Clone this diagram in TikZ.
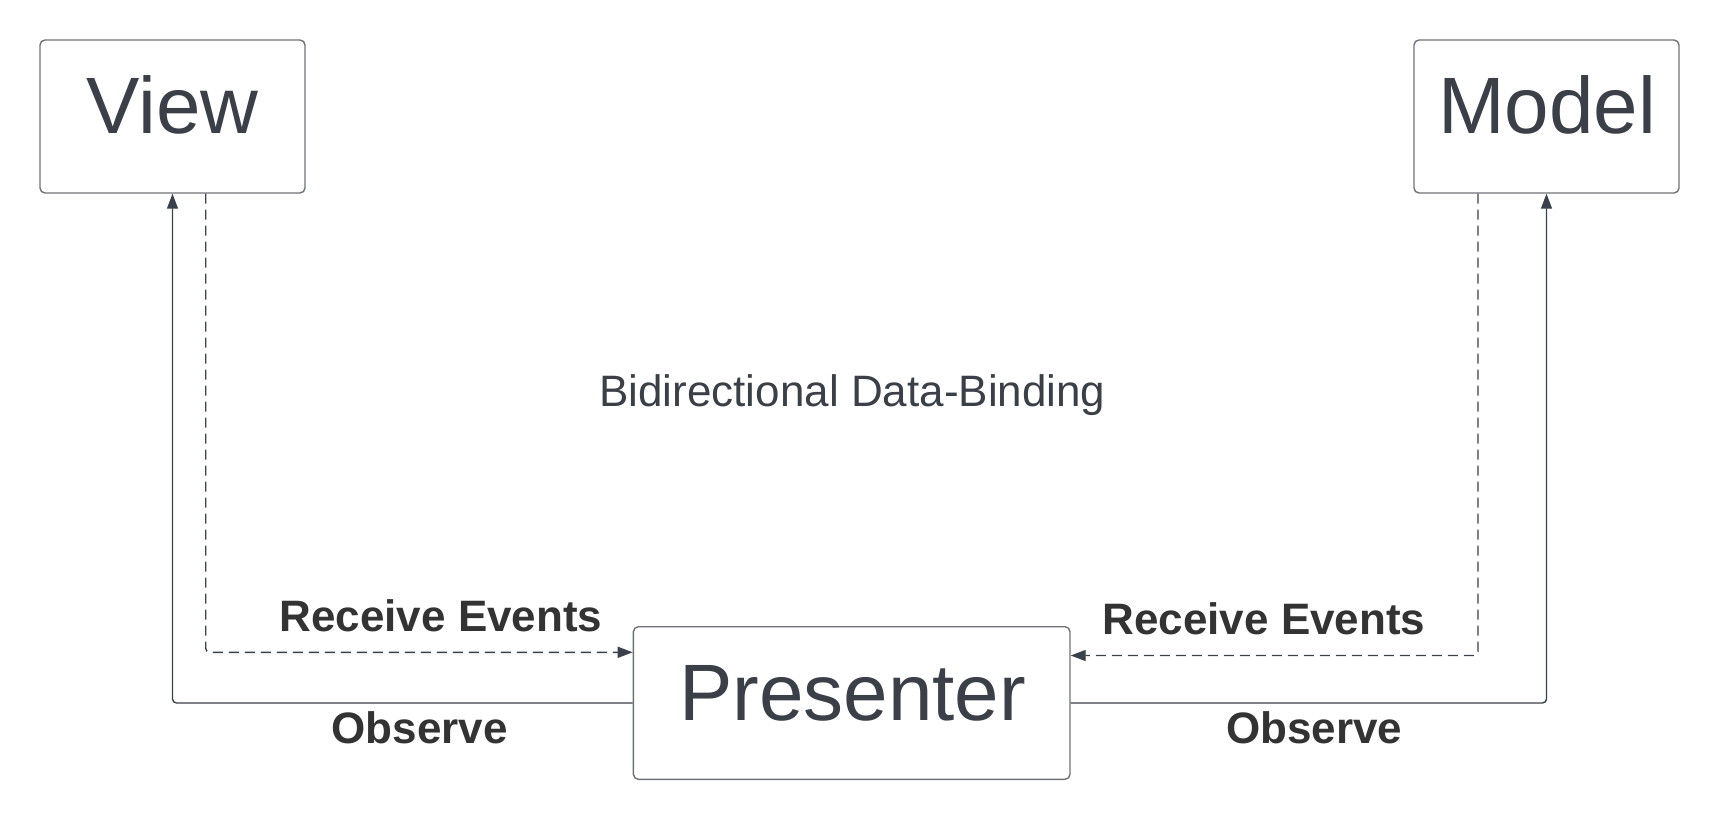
\documentclass[tikz,border=0pt]{standalone}
\usepackage{fontspec}
\setmainfont{Liberation Sans}
\usetikzlibrary{arrows.meta}
\definecolor{txt}{HTML}{3A3F48}
\definecolor{lbl}{HTML}{333333}
\definecolor{ln}{HTML}{3A414A}
\definecolor{bd}{HTML}{6E7278}
\tikzset{
  box/.style={draw=bd, line width=0.7pt, rounded corners=2.5pt, inner sep=0pt},
  boxtext/.style={text=txt, font=\fontsize{40}{48}\selectfont, anchor=base, inner sep=0pt},
  midtext/.style={text=txt, font=\fontsize{22}{26}\selectfont, anchor=base, inner sep=0pt},
  lbltext/.style={text=lbl, font=\bfseries\fontsize{22}{26}\selectfont, anchor=base, inner sep=0pt},
  conn/.style={draw=ln, line width=0.7pt, rounded corners=2pt, -{Triangle[length=7.5pt,width=5.5pt]}},
  dconn/.style={conn, dash pattern=on 5pt off 3pt},
}
\begin{document}
\begin{tikzpicture}[x=0.5pt, y=-0.5pt]
\useasboundingbox (0,0) rectangle (1720,820);
% boxes
\node[box, minimum width=132.5pt, minimum height=76.5pt] (view) at (172.5,116.5) {};
\node[box, minimum width=132.5pt, minimum height=76.5pt] (model) at (1546.5,116.5) {};
\node[box, minimum width=218.3pt, minimum height=76.3pt] (presenter) at (851.7,703) {};
\node[boxtext] (viewt) at (172.5,133) {View};
\node[boxtext] (modelt) at (1547,133) {Model};
\node[boxtext] (presentert) at (852.5,720) {Presenter};
% middle text
\node[midtext] (bind) at (852.4,406.7) {Bidirectional Data-Binding};
% connectors
\coordinate (ldash) at (205.7,652.3);
\coordinate (rdash) at (1478,655.5);
\draw[conn] (presenter.west) -| (view.south);
\draw[conn] (presenter.east) -| (model.south);
\draw[dconn] (view.south -| ldash) -- (ldash) -- (ldash -| presenter.west);
\draw[dconn] (model.south -| rdash) -- (rdash) -- (rdash -| presenter.east);
% labels
\node[lbltext] (recl) at (441,631) {Receive Events};
\node[lbltext] (recr) at (1264,634.3) {Receive Events};
\node[lbltext] (obsl) at (419.7,743.3) {Observe};
\node[lbltext] (obsr) at (1314.2,743.3) {Observe};
\end{tikzpicture}
\end{document}
